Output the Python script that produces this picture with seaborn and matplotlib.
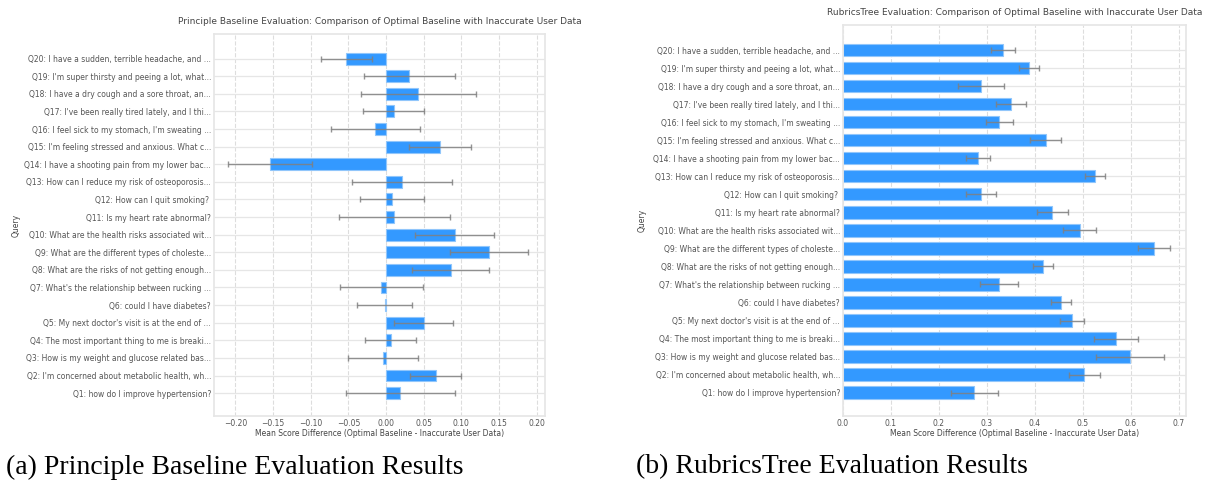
import numpy as np
import pandas as pd
import matplotlib
matplotlib.use("Agg")
import matplotlib.pyplot as plt
import seaborn as sns

# Query labels (Q1..Q20)
queries = [
    "Q1: how do I improve hypertension?",
    "Q2: I'm concerned about metabolic health, wh...",
    "Q3: How is my weight and glucose related bas...",
    "Q4: The most important thing to me is breaki...",
    "Q5: My next doctor's visit is at the end of ...",
    "Q6: could I have diabetes?",
    "Q7: What's the relationship between rucking ...",
    "Q8: What are the risks of not getting enough...",
    "Q9: What are the different types of choleste...",
    "Q10: What are the health risks associated wit...",
    "Q11: Is my heart rate abnormal?",
    "Q12: How can I quit smoking? ",
    "Q13: How can I reduce my risk of osteoporosis...",
    "Q14: I have a shooting pain from my lower bac...",
    "Q15: I'm feeling stressed and anxious. What c...",
    "Q16: I feel sick to my stomach, I'm sweating ...",
    "Q17: I've been really tired lately, and I thi...",
    "Q18: I have a dry cough and a sore throat, an...",
    "Q19: I'm super thirsty and peeing a lot, what...",
    "Q20: I have a sudden, terrible headache, and ...",
]

# Principle baseline: mean difference and error (Q1..Q20)
principle_mean = [0.019, 0.066, -0.004, 0.006, 0.050, -0.002, -0.006, 0.086, 0.137, 0.091,
                  0.011, 0.008, 0.021, -0.154, 0.072, -0.014, 0.010, 0.043, 0.031, -0.053]
principle_err = [0.072, 0.034, 0.047, 0.034, 0.039, 0.036, 0.055, 0.051, 0.052, 0.053,
                 0.074, 0.042, 0.066, 0.056, 0.041, 0.059, 0.041, 0.076, 0.060, 0.034]

# RubricsTree: mean difference and error (Q1..Q20)
rubrics_mean = [0.274, 0.503, 0.598, 0.569, 0.478, 0.454, 0.325, 0.416, 0.648, 0.493,
                0.436, 0.287, 0.525, 0.281, 0.422, 0.326, 0.350, 0.288, 0.388, 0.334]
rubrics_err = [0.049, 0.033, 0.070, 0.046, 0.025, 0.021, 0.039, 0.021, 0.033, 0.035,
               0.032, 0.031, 0.020, 0.025, 0.033, 0.029, 0.032, 0.048, 0.021, 0.025]

panels = [
    ("Principle Baseline Evaluation: Comparison of Optimal Baseline with Inaccurate User Data",
     principle_mean, principle_err, (-0.2285, 0.2112),
     [214 / 1211, 70 / 486, 331 / 1211, 382 / 486],
     [-0.20, -0.15, -0.10, -0.05, 0.00, 0.05, 0.10, 0.15, 0.20], "{:.2f}", -0.583),
    ("RubricsTree Evaluation: Comparison of Optimal Baseline with Inaccurate User Data",
     rubrics_mean, rubrics_err, (0.0, 0.7147),
     [843 / 1211, 70 / 486, 343 / 1211, 391 / 486],
     [0.0, 0.1, 0.2, 0.3, 0.4, 0.5, 0.6, 0.7], "{:.1f}", -0.572),
]

sns.set_theme(style="whitegrid")
plt.rcParams["font.family"] = ["DejaVu Sans"]

fig = plt.figure(figsize=(12.11, 4.86), dpi=100)

for title, means, errs, xlim, rect, xticks, fmt, ylab_x in panels:
    ax = fig.add_axes(rect)
    df = pd.DataFrame({"query": queries, "diff": means, "err": errs}).iloc[::-1].reset_index(drop=True)
    sns.barplot(data=df, x="diff", y="query", orient="h", color="#3399ff", saturation=1,
                errorbar=None, width=0.68, edgecolor="#91c6fb", linewidth=0.8, ax=ax)
    ax.errorbar(df["diff"], np.arange(len(df)), xerr=df["err"], fmt="none",
                ecolor="gray", elinewidth=1.0, capsize=1.9, capthick=1.0, alpha=0.85, zorder=3)
    ax.set_xlim(*xlim)
    ax.set_ylim(len(df) - 1 + 1.3, -1.4)
    ax.set_xticks(xticks)
    ax.set_xticklabels([fmt.format(t).replace("-", "\u2212") for t in xticks])
    ax.grid(axis="x", linestyle="--", color="#dddddd", linewidth=0.8)
    ax.grid(axis="y", linestyle="-", color="#e6e6e6", linewidth=0.9)
    ax.set_axisbelow(True)
    for s in ax.spines.values():
        s.set_color("#e6e6e6")
    ax.tick_params(axis="both", labelsize=5.5, colors="#555555", pad=2.2, length=0)
    ax.set_title(title, fontsize=6.5, color="#444444", pad=7.5)
    ax.set_xlabel("Mean Score Difference (Optimal Baseline - Inaccurate User Data)",
                  fontsize=5.5, color="#444444", labelpad=0.8)
    ax.set_ylabel("Query", fontsize=5.5, color="#444444")
    ax.yaxis.set_label_coords(ylab_x, 0.5)

fig.text(6 / 1211, 1 - 467 / 486, "(a) Principle Baseline Evaluation Results",
         fontsize=20, family="Liberation Serif", va="center", ha="left", color="black")
fig.text(636 / 1211, 1 - 467 / 486, "(b) RubricsTree Evaluation Results",
         fontsize=20, family="Liberation Serif", va="center", ha="left", color="black")

fig.savefig("out.png", dpi=100)
